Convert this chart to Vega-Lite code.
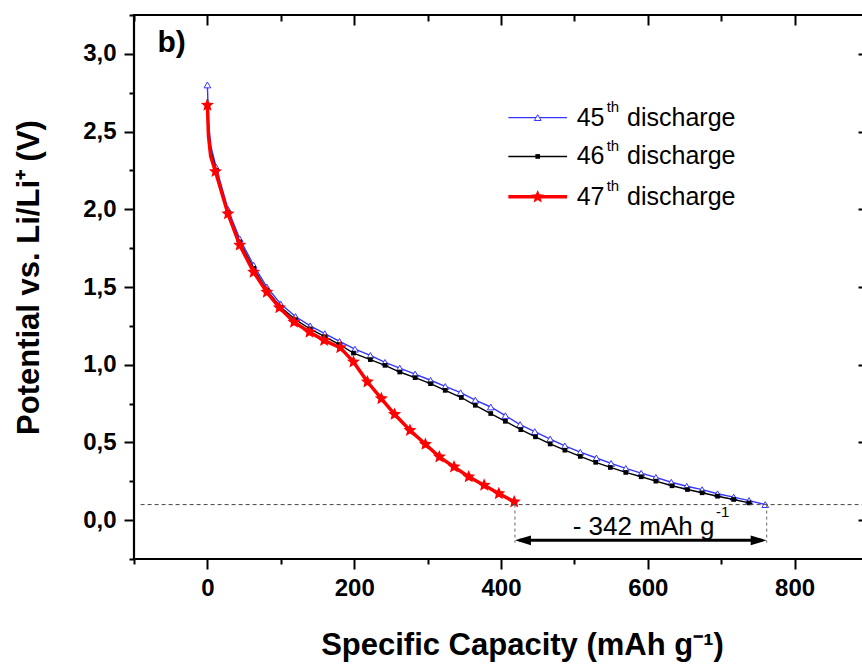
{
  "$schema": "https://vega.github.io/schema/vega-lite/v6.json",
  "autosize": {"type": "none"},
  "width": 734,
  "height": 544,
  "padding": {"left": 134, "top": 15, "right": -6, "bottom": 105},
  "background": "white",
  "config": {
    "view": {"stroke": "black", "strokeWidth": 2.2},
    "axis": {
      "grid": false, "domain": false, "tickColor": "black", "tickWidth": 2,
      "labelFont": "Liberation Sans", "labelFontWeight": "bold", "labelFontSize": 24, "labelColor": "black",
      "labelOverlap": false, "labelFlush": false,
      "titleFont": "Liberation Sans", "titleFontWeight": "bold", "titleColor": "black", "titleFontSize": 31
    },
    "text": {"font": "Liberation Sans", "color": "black"}
  },
  "datasets": {
    "curves": [
      {"s": "45", "cap": 0, "pot": 2.80, "m": 1},
      {"s": "45", "cap": 1.5, "pot": 2.55, "m": 0},
      {"s": "45", "cap": 5, "pot": 2.40, "m": 0},
      {"s": "45", "cap": 12, "pot": 2.27, "m": 1},
      {"s": "45", "cap": 28, "pot": 2.00, "m": 1},
      {"s": "45", "cap": 44, "pot": 1.81, "m": 1},
      {"s": "45", "cap": 63, "pot": 1.64, "m": 1},
      {"s": "45", "cap": 81, "pot": 1.50, "m": 1},
      {"s": "45", "cap": 100, "pot": 1.39, "m": 1},
      {"s": "45", "cap": 120, "pot": 1.31, "m": 1},
      {"s": "45", "cap": 140, "pot": 1.25, "m": 1},
      {"s": "45", "cap": 160, "pot": 1.20, "m": 1},
      {"s": "45", "cap": 180, "pot": 1.15, "m": 1},
      {"s": "45", "cap": 201, "pot": 1.10, "m": 1},
      {"s": "45", "cap": 222, "pot": 1.06, "m": 1},
      {"s": "45", "cap": 242, "pot": 1.015, "m": 1},
      {"s": "45", "cap": 262, "pot": 0.978, "m": 1},
      {"s": "45", "cap": 283, "pot": 0.940, "m": 1},
      {"s": "45", "cap": 304, "pot": 0.900, "m": 1},
      {"s": "45", "cap": 324, "pot": 0.860, "m": 1},
      {"s": "45", "cap": 345, "pot": 0.820, "m": 1},
      {"s": "45", "cap": 365, "pot": 0.772, "m": 1},
      {"s": "45", "cap": 386, "pot": 0.728, "m": 1},
      {"s": "45", "cap": 406, "pot": 0.672, "m": 1},
      {"s": "45", "cap": 426, "pot": 0.615, "m": 1},
      {"s": "45", "cap": 446, "pot": 0.570, "m": 1},
      {"s": "45", "cap": 467, "pot": 0.522, "m": 1},
      {"s": "45", "cap": 487, "pot": 0.478, "m": 1},
      {"s": "45", "cap": 508, "pot": 0.437, "m": 1},
      {"s": "45", "cap": 530, "pot": 0.400, "m": 1},
      {"s": "45", "cap": 550, "pot": 0.365, "m": 1},
      {"s": "45", "cap": 570, "pot": 0.333, "m": 1},
      {"s": "45", "cap": 591, "pot": 0.302, "m": 1},
      {"s": "45", "cap": 611, "pot": 0.275, "m": 1},
      {"s": "45", "cap": 632, "pot": 0.244, "m": 1},
      {"s": "45", "cap": 653, "pot": 0.218, "m": 1},
      {"s": "45", "cap": 674, "pot": 0.196, "m": 1},
      {"s": "45", "cap": 695, "pot": 0.170, "m": 1},
      {"s": "45", "cap": 717, "pot": 0.148, "m": 1},
      {"s": "45", "cap": 738, "pot": 0.126, "m": 1},
      {"s": "45", "cap": 760, "pot": 0.100, "m": 1},
      {"s": "46", "cap": 0, "pot": 2.71, "m": 0},
      {"s": "46", "cap": 1.5, "pot": 2.50, "m": 0},
      {"s": "46", "cap": 5, "pot": 2.37, "m": 0},
      {"s": "46", "cap": 12, "pot": 2.25, "m": 1},
      {"s": "46", "cap": 28, "pot": 1.98, "m": 1},
      {"s": "46", "cap": 44, "pot": 1.79, "m": 1},
      {"s": "46", "cap": 63, "pot": 1.62, "m": 1},
      {"s": "46", "cap": 81, "pot": 1.48, "m": 1},
      {"s": "46", "cap": 100, "pot": 1.37, "m": 1},
      {"s": "46", "cap": 120, "pot": 1.29, "m": 1},
      {"s": "46", "cap": 140, "pot": 1.23, "m": 1},
      {"s": "46", "cap": 160, "pot": 1.18, "m": 1},
      {"s": "46", "cap": 180, "pot": 1.13, "m": 1},
      {"s": "46", "cap": 199, "pot": 1.075, "m": 1},
      {"s": "46", "cap": 222, "pot": 1.033, "m": 1},
      {"s": "46", "cap": 242, "pot": 0.996, "m": 1},
      {"s": "46", "cap": 262, "pot": 0.953, "m": 1},
      {"s": "46", "cap": 283, "pot": 0.917, "m": 1},
      {"s": "46", "cap": 304, "pot": 0.878, "m": 1},
      {"s": "46", "cap": 324, "pot": 0.835, "m": 1},
      {"s": "46", "cap": 346, "pot": 0.789, "m": 1},
      {"s": "46", "cap": 365, "pot": 0.739, "m": 1},
      {"s": "46", "cap": 386, "pot": 0.686, "m": 1},
      {"s": "46", "cap": 406, "pot": 0.636, "m": 1},
      {"s": "46", "cap": 427, "pot": 0.582, "m": 1},
      {"s": "46", "cap": 447, "pot": 0.536, "m": 1},
      {"s": "46", "cap": 467, "pot": 0.490, "m": 1},
      {"s": "46", "cap": 487, "pot": 0.450, "m": 1},
      {"s": "46", "cap": 508, "pot": 0.410, "m": 1},
      {"s": "46", "cap": 529, "pot": 0.372, "m": 1},
      {"s": "46", "cap": 549, "pot": 0.339, "m": 1},
      {"s": "46", "cap": 570, "pot": 0.307, "m": 1},
      {"s": "46", "cap": 591, "pot": 0.279, "m": 1},
      {"s": "46", "cap": 611, "pot": 0.251, "m": 1},
      {"s": "46", "cap": 633, "pot": 0.221, "m": 1},
      {"s": "46", "cap": 654, "pot": 0.197, "m": 1},
      {"s": "46", "cap": 674, "pot": 0.176, "m": 1},
      {"s": "46", "cap": 695, "pot": 0.154, "m": 1},
      {"s": "46", "cap": 717, "pot": 0.133, "m": 1},
      {"s": "46", "cap": 738, "pot": 0.111, "m": 1},
      {"s": "46", "cap": 742, "pot": 0.105, "m": 0},
      {"s": "47", "cap": 0, "pot": 2.67, "m": 1},
      {"s": "47", "cap": 1.5, "pot": 2.47, "m": 0},
      {"s": "47", "cap": 4.5, "pot": 2.34, "m": 0},
      {"s": "47", "cap": 11, "pot": 2.243, "m": 1},
      {"s": "47", "cap": 28, "pot": 1.971, "m": 1},
      {"s": "47", "cap": 44, "pot": 1.77, "m": 1},
      {"s": "47", "cap": 63, "pot": 1.596, "m": 1},
      {"s": "47", "cap": 81, "pot": 1.467, "m": 1},
      {"s": "47", "cap": 98, "pot": 1.367, "m": 1},
      {"s": "47", "cap": 118, "pot": 1.274, "m": 1},
      {"s": "47", "cap": 139, "pot": 1.21, "m": 1},
      {"s": "47", "cap": 159, "pot": 1.157, "m": 1},
      {"s": "47", "cap": 181, "pot": 1.11, "m": 1},
      {"s": "47", "cap": 199, "pot": 1.018, "m": 1},
      {"s": "47", "cap": 218, "pot": 0.89, "m": 1},
      {"s": "47", "cap": 237, "pot": 0.782, "m": 1},
      {"s": "47", "cap": 255, "pot": 0.681, "m": 1},
      {"s": "47", "cap": 276, "pot": 0.578, "m": 1},
      {"s": "47", "cap": 297, "pot": 0.488, "m": 1},
      {"s": "47", "cap": 316, "pot": 0.407, "m": 1},
      {"s": "47", "cap": 336, "pot": 0.343, "m": 1},
      {"s": "47", "cap": 356, "pot": 0.279, "m": 1},
      {"s": "47", "cap": 377, "pot": 0.225, "m": 1},
      {"s": "47", "cap": 397, "pot": 0.171, "m": 1},
      {"s": "47", "cap": 418, "pot": 0.118, "m": 1},
      {"s": "47", "cap": 421, "pot": 0.105, "m": 0}
    ]
  },
  "layer": [
    {
      "data": {"name": "curves"},
      "transform": [{"filter": "datum.s == '45'"}],
      "mark": {"type": "line", "color": "#3535ff", "strokeWidth": 1.4},
      "encoding": {
        "x": {"field": "cap", "type": "quantitative", "scale": {"domain": [-100, 900], "nice": false, "zero": false},
          "axis": {"orient": "bottom", "values": [0, 200, 400, 600, 800], "tickSize": 10, "labelPadding": 7,
            "title": "Specific Capacity (mAh g⁻¹)", "titleX": 388, "titleY": 86, "titleBaseline": "middle"}},
        "y": {"field": "pot", "type": "quantitative", "scale": {"domain": [-0.25, 3.25], "nice": false, "zero": false},
          "axis": {"orient": "left", "values": [0, 0.5, 1, 1.5, 2, 2.5, 3], "tickSize": 10, "labelPadding": 8,
            "labelExpr": "replace(format(datum.value, '.1f'), '.', ',')",
            "title": "Potential vs. Li/Li⁺ (V)", "titleX": -105, "titleY": 262, "titleBaseline": "middle"}}
      }
    },
    {
      "data": {"name": "curves"},
      "transform": [{"filter": "datum.s == '45' && datum.m == 1"}],
      "mark": {"type": "point", "shape": "triangle-up", "filled": true, "fill": "white", "stroke": "#3535ff", "strokeWidth": 1, "size": 45, "opacity": 1},
      "encoding": {
        "x": {"field": "cap", "type": "quantitative", "scale": {"domain": [-100, 900], "nice": false, "zero": false},
          "axis": {"orient": "bottom", "values": [-100, 100, 300, 500, 700, 900], "tickSize": 5, "labels": false, "title": null}},
        "y": {"field": "pot", "type": "quantitative", "scale": {"domain": [-0.25, 3.25], "nice": false, "zero": false},
          "axis": {"orient": "left", "values": [-0.25, 0.25, 0.75, 1.25, 1.75, 2.25, 2.75, 3.25], "tickSize": 5, "labels": false, "title": null}}
      }
    },
    {
      "data": {"name": "curves"},
      "transform": [{"filter": "datum.s == '46'"}],
      "mark": {"type": "line", "color": "black", "strokeWidth": 1.4},
      "encoding": {
        "x": {"field": "cap", "type": "quantitative", "scale": {"domain": [-100, 900], "nice": false, "zero": false},
          "axis": {"orient": "top", "values": [0, 200, 400, 600, 800], "tickSize": -10, "labels": false, "title": null}},
        "y": {"field": "pot", "type": "quantitative", "scale": {"domain": [-0.25, 3.25], "nice": false, "zero": false},
          "axis": {"orient": "right", "values": [0, 0.5, 1, 1.5, 2, 2.5, 3], "tickSize": -10, "labels": false, "title": null}}
      }
    },
    {
      "data": {"name": "curves"},
      "transform": [{"filter": "datum.s == '46' && datum.m == 1"}],
      "mark": {"type": "point", "shape": "square", "filled": true, "color": "black", "size": 22, "opacity": 1},
      "encoding": {
        "x": {"field": "cap", "type": "quantitative", "scale": {"domain": [-100, 900], "nice": false, "zero": false},
          "axis": {"orient": "top", "values": [-100, 100, 300, 500, 700, 900], "tickSize": -6, "labels": false, "title": null}},
        "y": {"field": "pot", "type": "quantitative", "scale": {"domain": [-0.25, 3.25], "nice": false, "zero": false},
          "axis": {"orient": "right", "values": [-0.25, 0.25, 0.75, 1.25, 1.75, 2.25, 2.75, 3.25], "tickSize": -5, "labels": false, "title": null}}
      }
    },
    {
      "data": {"name": "curves"},
      "transform": [{"filter": "datum.s == '47'"}],
      "mark": {"type": "line", "color": "#ff0000", "strokeWidth": 3.5},
      "encoding": {
        "x": {"field": "cap", "type": "quantitative", "scale": {"domain": [-100, 900], "nice": false, "zero": false}, "axis": null},
        "y": {"field": "pot", "type": "quantitative", "scale": {"domain": [-0.25, 3.25], "nice": false, "zero": false}, "axis": null}
      }
    },
    {
      "data": {"name": "curves"},
      "transform": [{"filter": "datum.s == '47' && datum.m == 1"}],
      "mark": {"type": "point", "shape": "M0,-1L0.2645,-0.364L0.951,-0.309L0.428,0.139L0.588,0.809L0,0.45L-0.588,0.809L-0.428,0.139L-0.951,-0.309L-0.2645,-0.364Z", "filled": true, "color": "#ff0000", "size": 190, "opacity": 1},
      "encoding": {
        "x": {"field": "cap", "type": "quantitative", "scale": {"domain": [-100, 900], "nice": false, "zero": false}, "axis": null},
        "y": {"field": "pot", "type": "quantitative", "scale": {"domain": [-0.25, 3.25], "nice": false, "zero": false}, "axis": null}
      }
    },
    {
      "data": {"values": [{}]},
      "mark": {"type": "rule", "color": "#444444", "strokeWidth": 1, "strokeDash": [4, 3]},
      "encoding": {
        "x": {"datum": -91, "type": "quantitative", "axis": null},
        "x2": {"datum": 900},
        "y": {"datum": 0.1, "type": "quantitative", "axis": null}
      }
    },
    {
      "data": {"values": [{}]},
      "mark": {"type": "rule", "color": "#666666", "strokeWidth": 1, "strokeDash": [3, 3]},
      "encoding": {
        "x": {"datum": 419, "type": "quantitative", "axis": null},
        "y": {"datum": 0.1, "type": "quantitative", "axis": null},
        "y2": {"datum": -0.145}
      }
    },
    {
      "data": {"values": [{}]},
      "mark": {"type": "rule", "color": "#666666", "strokeWidth": 1, "strokeDash": [3, 3]},
      "encoding": {
        "x": {"datum": 762, "type": "quantitative", "axis": null},
        "y": {"datum": 0.1, "type": "quantitative", "axis": null},
        "y2": {"datum": -0.145}
      }
    },
    {
      "data": {"values": [{}]},
      "mark": {"type": "rule", "color": "black", "strokeWidth": 3},
      "encoding": {
        "x": {"datum": 425, "type": "quantitative", "axis": null},
        "x2": {"datum": 756},
        "y": {"datum": -0.13, "type": "quantitative", "axis": null}
      }
    },
    {
      "data": {"values": [{}]},
      "mark": {"type": "point", "shape": "M0,0L2,-0.6L2,0.6Z", "filled": true, "color": "black", "size": 256, "opacity": 1},
      "encoding": {
        "x": {"datum": 419, "type": "quantitative", "axis": null},
        "y": {"datum": -0.13, "type": "quantitative", "axis": null}
      }
    },
    {
      "data": {"values": [{}]},
      "mark": {"type": "point", "shape": "M0,0L-2,-0.6L-2,0.6Z", "filled": true, "color": "black", "size": 256, "opacity": 1},
      "encoding": {
        "x": {"datum": 762, "type": "quantitative", "axis": null},
        "y": {"datum": -0.13, "type": "quantitative", "axis": null}
      }
    },
    {
      "data": {"values": [{}]},
      "mark": {"type": "text", "text": "- 342 mAh g", "align": "right", "baseline": "middle", "fontSize": 26},
      "encoding": {
        "x": {"datum": 690.7, "type": "quantitative", "axis": null},
        "y": {"datum": -0.045, "type": "quantitative", "axis": null}
      }
    },
    {
      "data": {"values": [{}]},
      "mark": {"type": "text", "text": "-1", "align": "left", "baseline": "middle", "fontSize": 15},
      "encoding": {
        "x": {"datum": 693, "type": "quantitative", "axis": null},
        "y": {"datum": 0.05, "type": "quantitative", "axis": null}
      }
    },
    {
      "data": {"values": [{}]},
      "mark": {"type": "text", "text": "b)", "align": "left", "baseline": "middle", "fontSize": 30, "fontWeight": "bold"},
      "encoding": {
        "x": {"datum": -68, "type": "quantitative", "axis": null},
        "y": {"datum": 3.07, "type": "quantitative", "axis": null}
      }
    },
    {
      "data": {"values": [{}]},
      "mark": {"type": "rule", "color": "#3535ff", "strokeWidth": 1.4},
      "encoding": {"x": {"datum": 410, "type": "quantitative", "axis": null}, "x2": {"datum": 490}, "y": {"datum": 2.59, "type": "quantitative", "axis": null}}
    },
    {
      "data": {"values": [{}]},
      "mark": {"type": "point", "shape": "triangle-up", "filled": true, "fill": "white", "stroke": "#3535ff", "strokeWidth": 1, "size": 45, "opacity": 1},
      "encoding": {"x": {"datum": 450, "type": "quantitative", "axis": null}, "y": {"datum": 2.59, "type": "quantitative", "axis": null}}
    },
    {
      "data": {"values": [{}]},
      "mark": {"type": "text", "text": "45", "align": "right", "baseline": "middle", "fontSize": 25},
      "encoding": {"x": {"datum": 541, "type": "quantitative", "axis": null}, "y": {"datum": 2.59, "type": "quantitative", "axis": null}}
    },
    {
      "data": {"values": [{}]},
      "mark": {"type": "text", "text": "th", "align": "left", "baseline": "middle", "fontSize": 15},
      "encoding": {"x": {"datum": 544, "type": "quantitative", "axis": null}, "y": {"datum": 2.657, "type": "quantitative", "axis": null}}
    },
    {
      "data": {"values": [{}]},
      "mark": {"type": "text", "text": "discharge", "align": "left", "baseline": "middle", "fontSize": 25},
      "encoding": {"x": {"datum": 571.8, "type": "quantitative", "axis": null}, "y": {"datum": 2.59, "type": "quantitative", "axis": null}}
    },
    {
      "data": {"values": [{}]},
      "mark": {"type": "rule", "color": "black", "strokeWidth": 1.4},
      "encoding": {"x": {"datum": 410, "type": "quantitative", "axis": null}, "x2": {"datum": 490}, "y": {"datum": 2.34, "type": "quantitative", "axis": null}}
    },
    {
      "data": {"values": [{}]},
      "mark": {"type": "point", "shape": "square", "filled": true, "color": "black", "size": 22, "opacity": 1},
      "encoding": {"x": {"datum": 450, "type": "quantitative", "axis": null}, "y": {"datum": 2.34, "type": "quantitative", "axis": null}}
    },
    {
      "data": {"values": [{}]},
      "mark": {"type": "text", "text": "46", "align": "right", "baseline": "middle", "fontSize": 25},
      "encoding": {"x": {"datum": 541, "type": "quantitative", "axis": null}, "y": {"datum": 2.34, "type": "quantitative", "axis": null}}
    },
    {
      "data": {"values": [{}]},
      "mark": {"type": "text", "text": "th", "align": "left", "baseline": "middle", "fontSize": 15},
      "encoding": {"x": {"datum": 544, "type": "quantitative", "axis": null}, "y": {"datum": 2.407, "type": "quantitative", "axis": null}}
    },
    {
      "data": {"values": [{}]},
      "mark": {"type": "text", "text": "discharge", "align": "left", "baseline": "middle", "fontSize": 25},
      "encoding": {"x": {"datum": 571.8, "type": "quantitative", "axis": null}, "y": {"datum": 2.34, "type": "quantitative", "axis": null}}
    },
    {
      "data": {"values": [{}]},
      "mark": {"type": "rule", "color": "#ff0000", "strokeWidth": 3.5},
      "encoding": {"x": {"datum": 410, "type": "quantitative", "axis": null}, "x2": {"datum": 490}, "y": {"datum": 2.08, "type": "quantitative", "axis": null}}
    },
    {
      "data": {"values": [{}]},
      "mark": {"type": "point", "shape": "M0,-1L0.2645,-0.364L0.951,-0.309L0.428,0.139L0.588,0.809L0,0.45L-0.588,0.809L-0.428,0.139L-0.951,-0.309L-0.2645,-0.364Z", "filled": true, "color": "#ff0000", "size": 190, "opacity": 1},
      "encoding": {"x": {"datum": 450, "type": "quantitative", "axis": null}, "y": {"datum": 2.08, "type": "quantitative", "axis": null}}
    },
    {
      "data": {"values": [{}]},
      "mark": {"type": "text", "text": "47", "align": "right", "baseline": "middle", "fontSize": 25},
      "encoding": {"x": {"datum": 541, "type": "quantitative", "axis": null}, "y": {"datum": 2.08, "type": "quantitative", "axis": null}}
    },
    {
      "data": {"values": [{}]},
      "mark": {"type": "text", "text": "th", "align": "left", "baseline": "middle", "fontSize": 15},
      "encoding": {"x": {"datum": 544, "type": "quantitative", "axis": null}, "y": {"datum": 2.147, "type": "quantitative", "axis": null}}
    },
    {
      "data": {"values": [{}]},
      "mark": {"type": "text", "text": "discharge", "align": "left", "baseline": "middle", "fontSize": 25},
      "encoding": {"x": {"datum": 571.8, "type": "quantitative", "axis": null}, "y": {"datum": 2.08, "type": "quantitative", "axis": null}}
    }
  ],
  "resolve": {"scale": {"x": "shared", "y": "shared"}, "axis": {"x": "independent", "y": "independent"}}
}
